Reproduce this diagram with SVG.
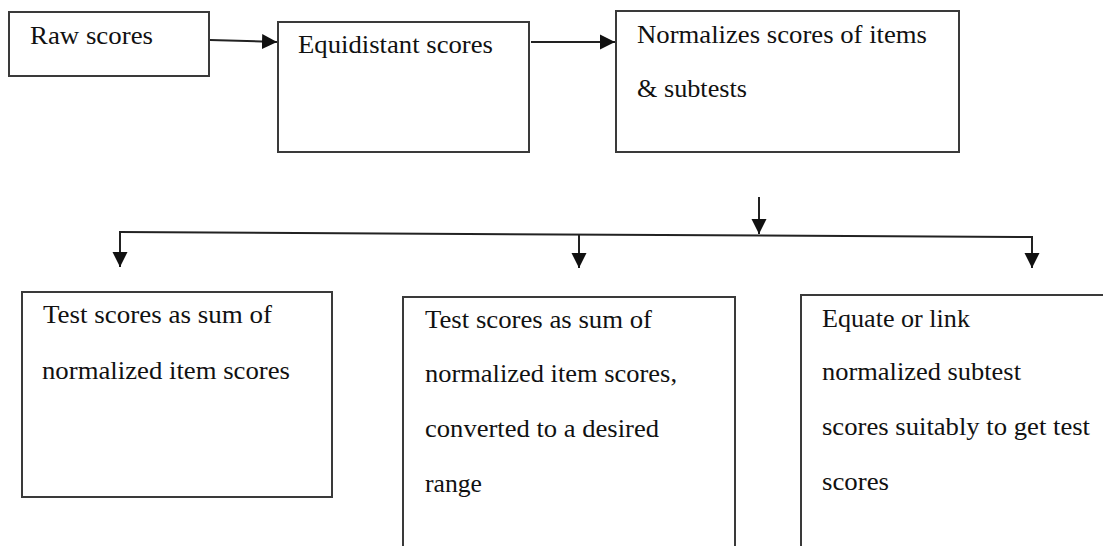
<svg xmlns="http://www.w3.org/2000/svg" width="1103" height="546" viewBox="0 0 1103 546">
<style>
.box{fill:#fff;stroke:#3a3a3a;stroke-width:2}
.t{font-family:"Liberation Serif","Times New Roman",serif;font-size:26px;fill:#111}
.c{fill:none;stroke:#222;stroke-width:2}
</style>
<defs>
<marker id="ah" markerUnits="userSpaceOnUse" markerWidth="16" markerHeight="16" refX="15" refY="8" orient="auto" viewBox="0 0 16 16">
<path d="M0,0.5 L15,8 L0,15.5 z" fill="#111"/>
</marker>
</defs>
<rect width="1103" height="546" fill="#fff"/>
<g id="connectors">
<line class="c" x1="210" y1="40" x2="277" y2="42" marker-end="url(#ah)"/>
<line class="c" x1="531" y1="42" x2="615" y2="42" marker-end="url(#ah)"/>
<line class="c" x1="759" y1="197" x2="759" y2="234" marker-end="url(#ah)"/>
<line class="c" x1="119" y1="232" x2="1033" y2="237"/>
<line class="c" x1="120" y1="232" x2="120" y2="267" marker-end="url(#ah)"/>
<line class="c" x1="579" y1="234.5" x2="579" y2="268" marker-end="url(#ah)"/>
<line class="c" x1="1032" y1="237" x2="1032" y2="268" marker-end="url(#ah)"/>
</g>
<g id="raw">
<rect class="box" x="9" y="12" width="200" height="64"/>
<text class="t" x="30" y="44" textLength="123" lengthAdjust="spacingAndGlyphs">Raw scores</text>
</g>
<g id="equidistant">
<rect class="box" x="278" y="22" width="251" height="130"/>
<text class="t" x="298" y="53" textLength="195" lengthAdjust="spacingAndGlyphs">Equidistant scores</text>
</g>
<g id="normalizes">
<rect class="box" x="616" y="11" width="343" height="141"/>
<text class="t" x="637" y="43" textLength="290" lengthAdjust="spacingAndGlyphs">Normalizes scores of items</text>
<text class="t" x="637" y="97" textLength="110" lengthAdjust="spacingAndGlyphs">&amp; subtests</text>
</g>
<g id="sum">
<rect class="box" x="22" y="292" width="310" height="205"/>
<text class="t" x="43" y="323" textLength="229" lengthAdjust="spacingAndGlyphs">Test scores as sum of</text>
<text class="t" x="42" y="379" textLength="248" lengthAdjust="spacingAndGlyphs">normalized item scores</text>
</g>
<g id="converted">
<rect class="box" x="403" y="297" width="332" height="260"/>
<text class="t" x="425" y="328" textLength="227" lengthAdjust="spacingAndGlyphs">Test scores as sum of</text>
<text class="t" x="425" y="382" textLength="252" lengthAdjust="spacingAndGlyphs">normalized item scores,</text>
<text class="t" x="425" y="437" textLength="234" lengthAdjust="spacingAndGlyphs">converted to a desired</text>
<text class="t" x="425" y="492" textLength="57" lengthAdjust="spacingAndGlyphs">range</text>
</g>
<g id="equate">
<rect class="box" x="801" y="295" width="320" height="262"/>
<text class="t" x="822" y="327" textLength="148" lengthAdjust="spacingAndGlyphs">Equate or link</text>
<text class="t" x="822" y="380" textLength="199" lengthAdjust="spacingAndGlyphs">normalized subtest</text>
<text class="t" x="822" y="435" textLength="268" lengthAdjust="spacingAndGlyphs">scores suitably to get test</text>
<text class="t" x="822" y="490" textLength="67" lengthAdjust="spacingAndGlyphs">scores</text>
</g>
</svg>
